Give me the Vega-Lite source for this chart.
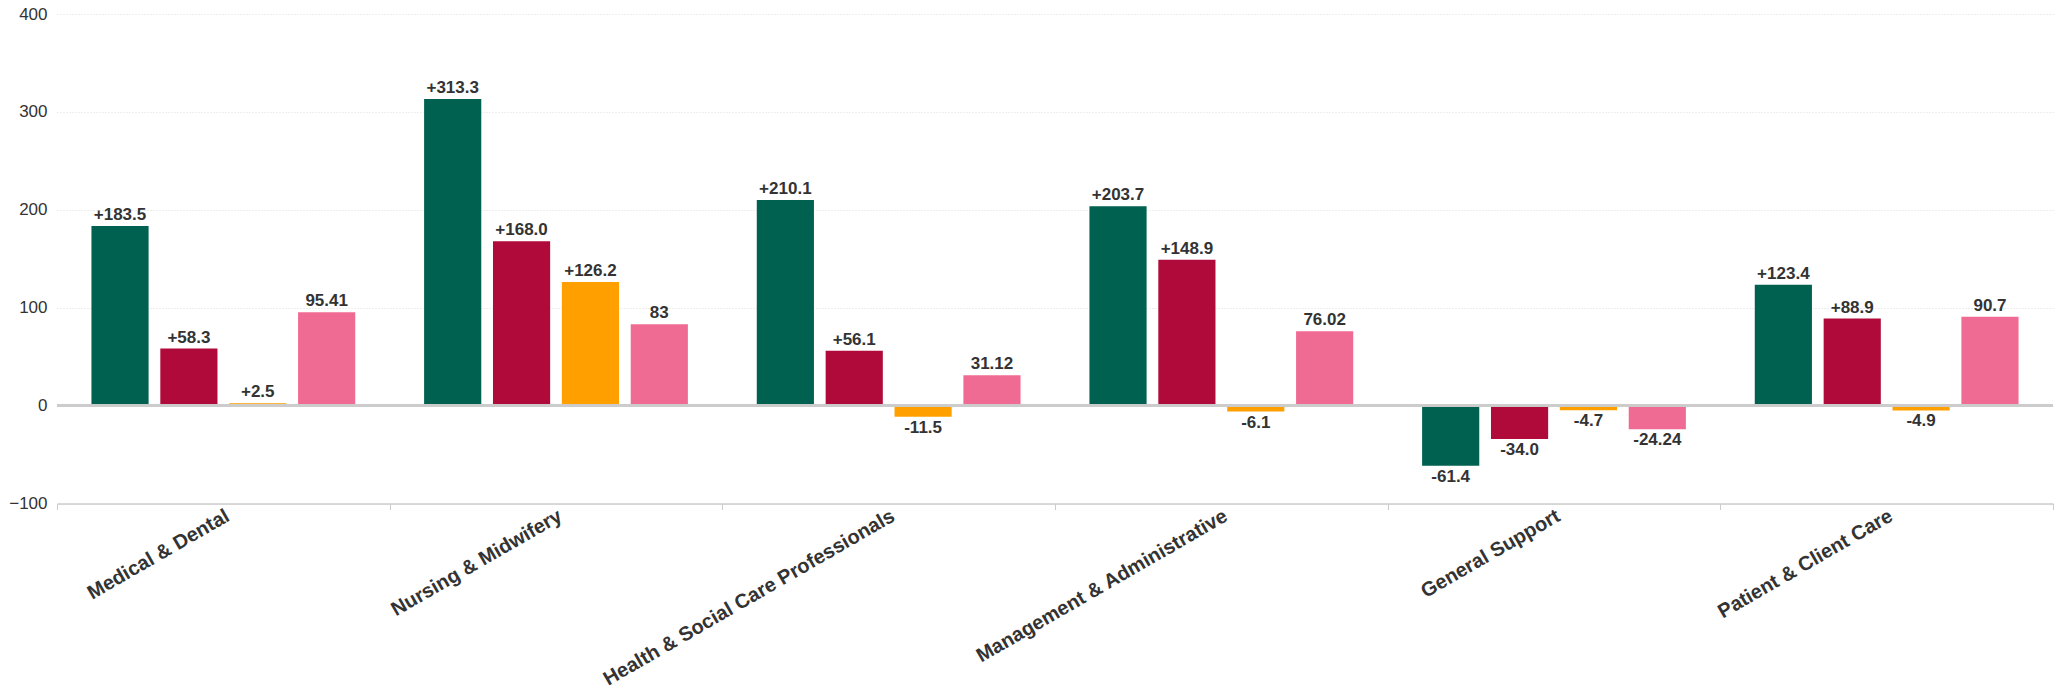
{
  "$schema": "https://vega.github.io/schema/vega-lite/v6.json",
  "width": 1996,
  "height": 489.5,
  "autosize": {"type": "none"},
  "padding": {"left": 57, "top": 14, "right": 8, "bottom": 195.5},
  "background": "#ffffff",
  "config": {
    "view": {"stroke": null},
    "font": "Liberation Sans",
    "axis": {"labelFont": "Liberation Sans", "labelColor": "#333333"}
  },
  "data": {
    "values": [
      {"category": "Medical & Dental", "series": "A", "value": 183.5, "label": "+183.5"},
      {"category": "Medical & Dental", "series": "B", "value": 58.3, "label": "+58.3"},
      {"category": "Medical & Dental", "series": "C", "value": 2.5, "label": "+2.5"},
      {"category": "Medical & Dental", "series": "D", "value": 95.41, "label": "95.41"},
      {"category": "Nursing & Midwifery", "series": "A", "value": 313.3, "label": "+313.3"},
      {"category": "Nursing & Midwifery", "series": "B", "value": 168.0, "label": "+168.0"},
      {"category": "Nursing & Midwifery", "series": "C", "value": 126.2, "label": "+126.2"},
      {"category": "Nursing & Midwifery", "series": "D", "value": 83, "label": "83"},
      {"category": "Health & Social Care Professionals", "series": "A", "value": 210.1, "label": "+210.1"},
      {"category": "Health & Social Care Professionals", "series": "B", "value": 56.1, "label": "+56.1"},
      {"category": "Health & Social Care Professionals", "series": "C", "value": -11.5, "label": "-11.5"},
      {"category": "Health & Social Care Professionals", "series": "D", "value": 31.12, "label": "31.12"},
      {"category": "Management & Administrative", "series": "A", "value": 203.7, "label": "+203.7"},
      {"category": "Management & Administrative", "series": "B", "value": 148.9, "label": "+148.9"},
      {"category": "Management & Administrative", "series": "C", "value": -6.1, "label": "-6.1"},
      {"category": "Management & Administrative", "series": "D", "value": 76.02, "label": "76.02"},
      {"category": "General Support", "series": "A", "value": -61.4, "label": "-61.4"},
      {"category": "General Support", "series": "B", "value": -34.0, "label": "-34.0"},
      {"category": "General Support", "series": "C", "value": -4.7, "label": "-4.7"},
      {"category": "General Support", "series": "D", "value": -24.24, "label": "-24.24"},
      {"category": "Patient & Client Care", "series": "A", "value": 123.4, "label": "+123.4"},
      {"category": "Patient & Client Care", "series": "B", "value": 88.9, "label": "+88.9"},
      {"category": "Patient & Client Care", "series": "C", "value": -4.9, "label": "-4.9"},
      {"category": "Patient & Client Care", "series": "D", "value": 90.7, "label": "90.7"}
    ]
  },
  "encoding": {
    "x": {
      "field": "category",
      "type": "nominal",
      "sort": null,
      "title": null,
      "scale": {"paddingInner": 0, "paddingOuter": 0},
      "axis": {
        "labelAngle": -30,
        "labelAlign": "right",
        "labelBaseline": "top",
        "labelFontSize": 20,
        "labelFontWeight": "bold",
        "labelLimit": 0,
        "labelOffset": -1,
        "labelPadding": -4,
        "tickBand": "extent",
        "tickSize": 6,
        "tickColor": "#cccccc",
        "domainColor": "#cccccc",
        "domainWidth": 1.5,
        "grid": false
      }
    },
    "xOffset": {
      "field": "series",
      "type": "nominal",
      "sort": ["A", "B", "C", "D"],
      "scale": {"paddingInner": 0.17, "paddingOuter": 0.5}
    },
    "y": {
      "field": "value",
      "type": "quantitative",
      "title": null,
      "scale": {"domain": [-100, 400], "nice": false},
      "axis": {
        "values": [-100, 0, 100, 200, 300, 400],
        "labelFontSize": 17,
        "labelPadding": 10,
        "ticks": false,
        "domain": false,
        "gridColor": "#dddddd",
        "gridDash": [1, 2]
      }
    }
  },
  "layer": [
    {
      "mark": {"type": "bar"},
      "encoding": {
        "color": {
          "field": "series",
          "type": "nominal",
          "scale": {"domain": ["A", "B", "C", "D"], "range": ["#006151", "#b00a3a", "#ffa000", "#f06b93"]},
          "legend": null
        }
      }
    },
    {
      "mark": {"type": "rule", "color": "#cccccc", "strokeWidth": 1.5},
      "encoding": {"y": {"datum": 0}, "x": null, "xOffset": null}
    },
    {
      "transform": [{"filter": "datum.value >= 0"}],
      "mark": {"type": "text", "baseline": "bottom", "dy": -2, "fontSize": 17, "fontWeight": "bold", "color": "#333333"},
      "encoding": {"text": {"field": "label"}}
    },
    {
      "transform": [{"filter": "datum.value < 0"}],
      "mark": {"type": "text", "baseline": "top", "dy": 3, "fontSize": 17, "fontWeight": "bold", "color": "#333333"},
      "encoding": {"text": {"field": "label"}}
    }
  ]
}
